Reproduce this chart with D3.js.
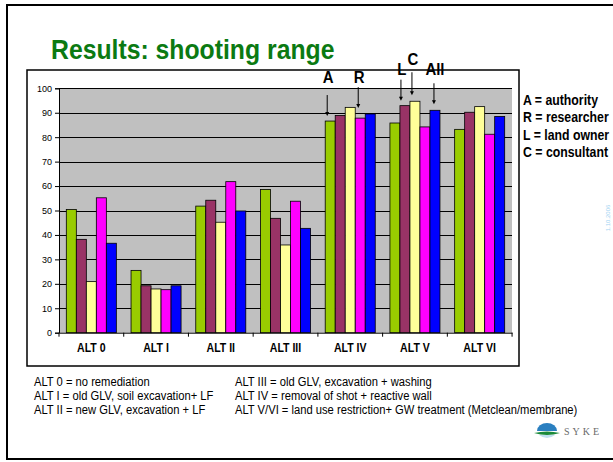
<!DOCTYPE html>
<html>
<head>
<meta charset="utf-8">
<script src="https://cdn.jsdelivr.net/npm/d3@7"></script>
<style>
  body { margin: 0; background: #fff; }
  svg { display: block; font-family: "Liberation Sans", Arial, sans-serif; }
</style>
</head>
<body>
<svg id="chart" width="613" height="462"></svg>
<script>
const categories = ['ALT 0', 'ALT I', 'ALT II', 'ALT III', 'ALT IV', 'ALT V', 'ALT VI'];
const seriesNames = ['authority', 'land owner', 'consultant', 'researcher', 'all'];
const authority  = [50.4, 25.5, 51.8, 58.6, 86.6, 85.8, 83.2];
const landOwner  = [38.2, 19.2, 54.2, 46.8, 88.9, 92.9, 90.2];
const consultant = [20.9, 17.9, 45.2, 35.9, 92.2, 94.7, 92.5];
const researcher = [55.2, 17.6, 61.8, 53.8, 87.8, 84.2, 81.2];
const allGroups  = [36.6, 19.2, 49.8, 42.7, 89.5, 91.0, 88.5];
const yTicks = [0, 10, 20, 30, 40, 50, 60, 70, 80, 90, 100];
const legendLines = ['A = authority', 'R = researcher', 'L = land owner', 'C = consultant'];
const notesLeft = ['ALT 0 = no remediation', 'ALT I = old GLV, soil excavation+ LF', 'ALT II = new GLV, excavation + LF'];
const notesRight = ['ALT III = old GLV, excavation + washing', 'ALT IV = removal of shot + reactive wall', 'ALT V/VI = land use restriction+ GW treatment (Metclean/membrane)'];
// which bar each arrow points at
const annotations = [
  { label: 'A', cat: 'ALT IV', series: 'authority' },
  { label: 'R', cat: 'ALT IV', series: 'researcher' },
  { label: 'L', cat: 'ALT V', series: 'land owner' },
  { label: 'C', cat: 'ALT V', series: 'consultant' },
  { label: 'All', cat: 'ALT V', series: 'all' }
];

const seriesValues = [authority, landOwner, consultant, researcher, allGroups];
const colors = ['#99cc00', '#993366', '#ffff99', '#ff00ff', '#0000ff'];

const svg = d3.select('#chart');

// no Arial Narrow installed, so squeeze Liberation Sans horizontally
function narrowText(parent, x, y, txt, sx) {
  return parent.append('text')
    .attr('transform', `translate(${x},${y}) scale(${sx},1)`)
    .text(txt);
}

// slide frame
svg.append('rect').attr('x', 7).attr('y', 5).attr('width', 620).attr('height', 454)
  .attr('fill', 'none').attr('stroke', '#000').attr('stroke-width', 2);

narrowText(svg, 51, 59, 'Results: shooting range', 0.885)
  .attr('font-size', 28).attr('font-weight', 'bold').attr('fill', '#0b7a12');

// chart box
svg.append('rect').attr('x', 27).attr('y', 70).attr('width', 492).attr('height', 296)
  .attr('fill', '#fff').attr('stroke', '#000').attr('stroke-width', 1.5);

const margin = { left: 59, right: 512, top: 88.3, bottom: 332.7 };

const x0 = d3.scaleBand().domain(categories)
  .range([margin.left, margin.right]).paddingInner(0.227).paddingOuter(0.113);
const x1 = d3.scaleBand().domain(seriesNames).range([0, x0.bandwidth()]);
const y = d3.scaleLinear().domain([0, 100]).range([margin.bottom, margin.top]);

svg.append('rect').attr('x', margin.left).attr('y', margin.top)
  .attr('width', margin.right - margin.left).attr('height', margin.bottom - margin.top)
  .attr('fill', '#c0c0c0');

svg.append('g').selectAll('line').data(yTicks.filter(d => d > 0)).join('line')
  .attr('x1', margin.left).attr('x2', margin.right)
  .attr('y1', d => Math.round(y(d)) + 0.5).attr('y2', d => Math.round(y(d)) + 0.5)
  .attr('stroke', '#000').attr('stroke-width', 1);

const rows = categories.map((c, i) => ({ cat: c, vals: seriesNames.map((s, j) => ({ s, j, v: seriesValues[j][i] })) }));

svg.append('g').selectAll('g').data(rows).join('g')
  .attr('transform', d => `translate(${x0(d.cat)},0)`)
  .selectAll('rect').data(d => d.vals).join('rect')
  .attr('x', d => x1(d.s)).attr('width', x1.bandwidth())
  .attr('y', d => y(d.v)).attr('height', d => y(0) - y(d.v))
  .attr('fill', d => colors[d.j]).attr('stroke', '#000').attr('stroke-width', 0.8);

// axes
const yAxis = d3.axisLeft(y).tickValues(yTicks).tickSize(4).tickPadding(3);
const gy = svg.append('g').attr('transform', `translate(${margin.left},0)`).call(yAxis);
gy.selectAll('text').attr('font-size', 9).attr('fill', '#000');
gy.select('.domain').attr('stroke', '#000');

const xAxis = d3.axisBottom(x0).tickSize(0).tickFormat('');
const gx = svg.append('g').attr('transform', `translate(0,${margin.bottom})`).call(xAxis);
gx.select('.domain').attr('stroke', '#000');
categories.forEach(c => {
  narrowText(gx, x0(c) + x0.bandwidth() / 2, 19, c, 0.88)
    .attr('text-anchor', 'middle').attr('font-size', 12).attr('font-weight', 'bold').attr('fill', '#000');
});
// boundary tick marks between groups
const step = x0.step();
gx.selectAll('line.sep').data(d3.range(categories.length + 1)).join('line')
  .attr('class', 'sep')
  .attr('x1', i => margin.left + i * step).attr('x2', i => margin.left + i * step)
  .attr('y1', 0).attr('y2', 4).attr('stroke', '#000');

// arrows + letters
const annotLayout = {
  A:   { dx: -3, gap: 5,  len: 21, labelY: 83 },
  R:   { dx: -2, gap: 10, len: 21, labelY: 83 },
  L:   { dx: -4, gap: 5,  len: 21, labelY: 75 },
  C:   { dx: -3, gap: 6,  len: 23, labelY: 65 },
  All: { dx: -1, gap: 6,  len: 21, labelY: 75 }
};
const ga = svg.append('g');
annotations.forEach(a => {
  const j = seriesNames.indexOf(a.series);
  const v = seriesValues[j][categories.indexOf(a.cat)];
  const L = annotLayout[a.label];
  const ax = x0(a.cat) + x1(a.series) + x1.bandwidth() / 2 + L.dx;
  const tip = y(v) - L.gap;
  ga.append('line').attr('x1', ax).attr('x2', ax).attr('y1', tip - L.len).attr('y2', tip - 3)
    .attr('stroke', '#000').attr('stroke-width', 1);
  ga.append('path').attr('d', `M${ax - 2},${tip - 4}L${ax + 2},${tip - 4}L${ax},${tip}Z`).attr('fill', '#000');
  narrowText(ga, ax + 1, L.labelY, a.label, 0.88).attr('text-anchor', 'middle')
    .attr('font-size', 17).attr('font-weight', 'bold').attr('fill', '#000');
});

// legend text
const gl = svg.append('g');
legendLines.forEach((t, i) => {
  narrowText(gl, 523, 105 + i * 17.3, t, 0.82)
    .attr('font-size', 15).attr('font-weight', 'bold').attr('fill', '#000');
});

// date
svg.append('text').attr('transform', 'translate(610,218) rotate(-90)')
  .attr('text-anchor', 'middle').attr('font-size', 6).attr('fill', '#9fd3f2')
  .text('1.10.2006');

// notes
const gn = svg.append('g');
notesLeft.forEach((t, i) => {
  narrowText(gn, 34, 386 + i * 13.8, t, 0.83).attr('font-size', 13.5).attr('fill', '#000');
});
notesRight.forEach((t, i) => {
  narrowText(gn, 235, 386 + i * 13.8, t, 0.83).attr('font-size', 13.5).attr('fill', '#000');
});

// SYKE logo
const logo = svg.append('g').attr('transform', 'translate(537,431)');
logo.append('path').attr('d', 'M0,0 A10,8 0 0 1 20,0 Z').attr('fill', '#2a7fc0');
logo.append('path').attr('d', 'M-3,2 Q10,-1 23,2 Q10,6 -3,2 Z').attr('fill', '#1a8a3a');
logo.append('path').attr('d', 'M2,4 Q10,10 18,4 Z').attr('fill', '#bfe0f0');
logo.append('text').attr('x', 27).attr('y', 4).attr('font-size', 10)
  .style('font-family', '"Liberation Serif", "DejaVu Serif", serif').attr('letter-spacing', 3)
  .attr('fill', '#6a6a6a').text('SYKE');
</script>
</body>
</html>
